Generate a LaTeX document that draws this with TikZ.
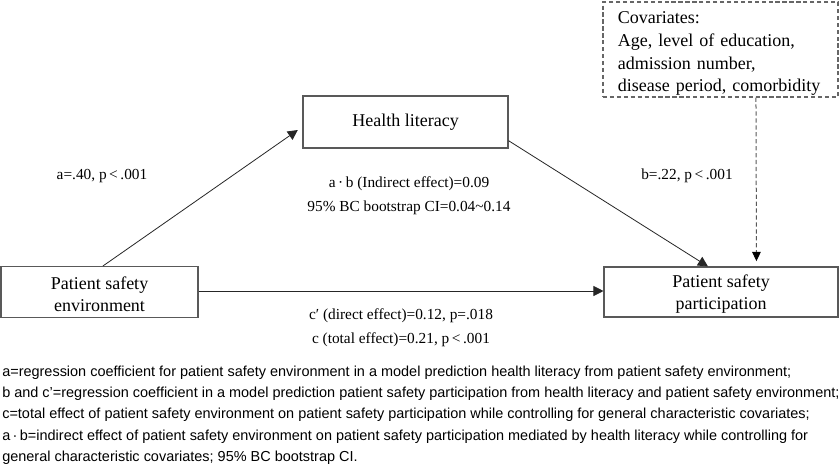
\documentclass[tikz,border=0pt]{standalone}
\usepackage{fontspec}
\setmainfont{Liberation Serif}
\newfontfamily\capfont{Liberation Sans}
\usetikzlibrary{arrows.meta}
\begin{document}
\begin{tikzpicture}[x=0.75pt,y=-0.75pt,
  box/.style={draw=black!65, line width=0.8pt, fill=white, inner sep=0pt, align=center,
    font=\fontsize{13.5}{16.5}\selectfont},
  covbox/.style={draw=black!60, dash pattern=on 3.2pt off 2pt, line width=0.8pt, inner sep=0pt, align=left,
    text width=154pt, font=\fontsize{13.5}{17}\selectfont},
  lbl/.style={inner sep=0pt, align=center, font=\fontsize{11.5}{18}\selectfont},
  arr/.style={draw=black!85, line width=0.6pt, -{Triangle[length=7.5pt,width=7.5pt]}},
  darr/.style={draw=black!65, dash pattern=on 3.2pt off 2pt, line width=0.75pt,
    -{Triangle[length=7pt,width=6.5pt,color=black,fill=black]}},
  captext/.style={inner sep=0pt, anchor=west, align=left, font=\capfont\fontsize{10.85}{16}\selectfont}]
\useasboundingbox (0,0) rectangle (840,465);
\fill[white] (0,0) rectangle (840,465);

\node[box, minimum width=147.75pt, minimum height=38.25pt] (pse) at (99.5,292) {\rule{0pt}{12.5pt}Patient safety\\environment};
\node[box, minimum width=153.75pt, minimum height=39pt] (hl) at (405.5,122) {Health literacy};
\node[box, minimum width=175.5pt, minimum height=37.5pt] (psp) at (721,292) {\rule{0pt}{12.5pt}Patient safety\\participation};
\node[covbox, minimum width=176.25pt, minimum height=71.25pt] (cov) at (720.5,49.5)
  {\rule{0pt}{15.5pt}Covariates:\\Age, level of education,\\admission number,\\disease period, comorbidity};

\draw[arr] ([xshift=2.6pt]pse.north) -- ([xshift=-3.5pt,yshift=-6pt]hl.west);
\draw[arr] ([yshift=-14pt]hl.east) -- ([xshift=-9.75pt]psp.north);
\draw[arr] ([yshift=0.75pt]pse.east) -- ([yshift=0.75pt]psp.west);
\draw[darr] ([xshift=26.6pt]cov.south) -- ([xshift=26.6pt,yshift=4pt]psp.north);

\node[lbl] (la) at (102,176) {a=.40, p\,<\,.001};
\node[lbl] (lab) at (409,196) {a\,·\,b (Indirect effect)=0.09\\95\% BC bootstrap CI=0.04\textasciitilde0.14};
\node[lbl] (lb) at (687,176) {b=.22, p\,<\,.001};
\node[lbl] (lc) at (401,328) {c′ (direct effect)=0.12, p=.018\\c (total effect)=0.21, p\,<\,.001};

\node[captext] (cp) at (2,415) {a=regression coefficient for patient safety environment in a model prediction health literacy from patient safety environment;\\
b and c’=regression coefficient in a model prediction patient safety participation from health literacy and patient safety environment;\\
c=total effect of patient safety environment on patient safety participation while controlling for general characteristic covariates;\\
a\,·\,b=indirect effect of patient safety environment on patient safety participation mediated by health literacy while controlling for\\
general characteristic covariates; 95\% BC bootstrap CI.};
\end{tikzpicture}
\end{document}
